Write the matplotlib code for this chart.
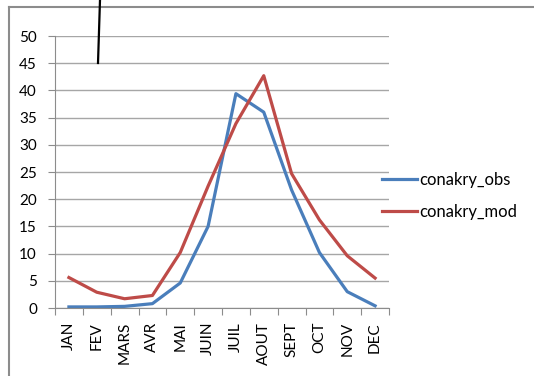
import numpy as np
import matplotlib.pyplot as plt
from matplotlib.lines import Line2D

# monthly values
months = ['JAN', 'FEV', 'MARS', 'AVR', 'MAI', 'JUIN', 'JUIL', 'AOUT',
          'SEPT', 'OCT', 'NOV', 'DEC']
conakry_obs = [0.2, 0.2, 0.3, 0.8, 4.6, 15.0, 39.4, 36.0, 21.7, 10.2, 3.0, 0.4]
conakry_mod = [5.6, 2.9, 1.7, 2.3, 10.2, 22.4, 33.9, 42.7, 24.7, 16.2, 9.6, 5.5]
yticks = [0, 5, 10, 15, 20, 25, 30, 35, 40, 45, 50]

plt.rcParams['font.family'] = ['Lato', 'DejaVu Sans']

W, H = 534, 376
fig = plt.figure(figsize=(W / 100, H / 100), dpi=100)
ax = fig.add_axes([55 / W, 1 - 308 / H, (389 - 55) / W, (308 - 36) / H])

x = np.arange(len(months))
ax.plot(x, conakry_obs, color='#4a7ebb', lw=2.3, label='conakry_obs')
ax.plot(x, conakry_mod, color='#be4b48', lw=2.3, label='conakry_mod')

ax.set_xlim(-0.5, len(months) - 0.5)
ax.set_ylim(0, 50)
ax.set_yticks(yticks)
ax.yaxis.grid(True, color='#a6a6a6', lw=1.0)
ax.set_axisbelow(True)

# category ticks on the boundaries, labels in the middle
ax.set_xticks(np.arange(-0.5, len(months), 1.0))
ax.set_xticklabels([])
ax.set_xticks(x, minor=True)
ax.set_xticklabels(months, minor=True, rotation=90, fontsize=11)
ax.tick_params(axis='x', which='minor', length=0, pad=10)
ax.tick_params(axis='x', which='major', length=5, color='#8c8c8c', direction='out')
ax.tick_params(axis='y', length=5, color='#8c8c8c', labelsize=11, pad=8)

for s in ['top', 'right']:
    ax.spines[s].set_visible(False)
for s in ['left', 'bottom']:
    ax.spines[s].set_color('#8c8c8c')

leg = ax.legend(loc='upper left', bbox_to_anchor=(382 / W, 1 - 172 / H),
                bbox_transform=fig.transFigure, frameon=False, fontsize=12,
                handlelength=2.1, handletextpad=0.15, labelspacing=0.95,
                borderpad=0, borderaxespad=0)

# chart frame and the stray line at the top
fig.add_artist(Line2D([9 / W, 9 / W], [0, 1 - 7 / H], color='#8c8c8c', lw=1.5))
fig.add_artist(Line2D([9 / W, 1], [1 - 7 / H, 1 - 7 / H], color='#8c8c8c', lw=1.5))
fig.add_artist(Line2D([100 / W, 98 / W], [1, 1 - 63 / H], color='black', lw=1.6))

fig.savefig('out.png', dpi=100)
